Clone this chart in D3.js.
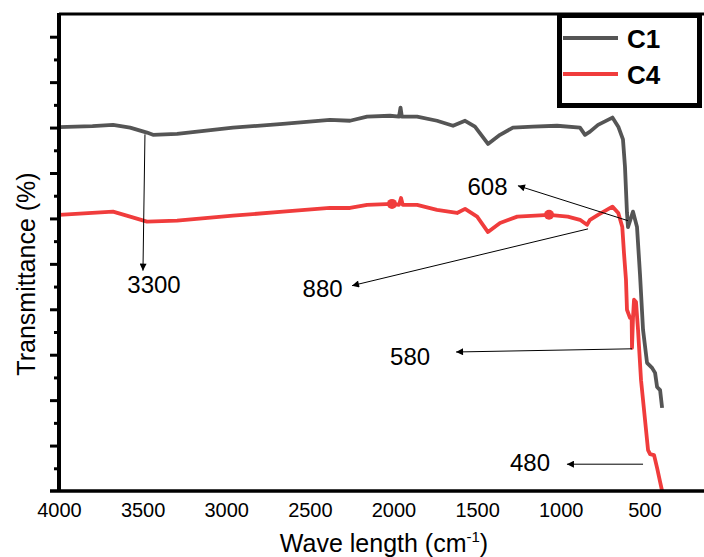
<!DOCTYPE html>
<html>
<head>
<meta charset="utf-8">
<script src="https://cdn.jsdelivr.net/npm/d3@7"></script>
<style>
  body { margin: 0; background: #fff; }
  svg { display: block; font-family: Arial, "Liberation Sans", sans-serif; }
</style>
</head>
<body>
<div id="graph"></div>
<script>
// FTIR spectra, wavenumber (cm-1) vs transmittance (%)
const c1 = [
    [4000, 80.1], [3800, 80.3], [3677, 80.6], [3575, 80.0], [3474, 78.9], [3438, 78.4],
    [3294, 78.6], [2960, 80.0], [2661, 80.8], [2380, 81.7], [2260, 81.5], [2158, 82.4],
    [2021, 82.6], [1967, 82.4], [1958, 84.4], [1950, 82.4], [1859, 82.4], [1740, 81.5],
    [1644, 80.4], [1572, 81.5], [1513, 80.2], [1435, 76.4], [1363, 78.4], [1286, 80.0],
    [1166, 80.2], [1022, 80.4], [885, 80.0], [855, 78.4], [825, 79.1], [777, 80.6],
    [691, 82.2], [656, 80.2], [628, 77.4], [616, 71.4], [604, 61.2], [598, 58.1],
    [568, 61.5], [544, 58.1], [526, 47.6], [508, 35.5], [484, 28.2], [454, 27.1],
    [436, 26.0], [424, 22.9], [406, 22.2], [394, 18.3]
];
const c4 = [
    [4000, 60.8], [3677, 61.5], [3575, 60.4], [3474, 59.3], [3294, 59.5], [2960, 60.6],
    [2661, 61.5], [2380, 62.3], [2260, 62.3], [2158, 63.0], [2006, 63.2], [1967, 63.0],
    [1955, 64.5], [1945, 63.0], [1859, 63.0], [1740, 61.9], [1620, 61.2], [1572, 62.1],
    [1500, 60.4], [1435, 57.0], [1363, 59.0], [1260, 60.4], [1070, 60.8], [958, 60.4],
    [885, 59.7], [843, 58.6], [825, 59.7], [777, 60.8], [691, 62.6], [656, 61.2],
    [632, 58.1], [622, 52.4], [610, 46.5], [604, 39.9], [586, 38.1], [576, 38.1],
    [574, 31.5], [568, 38.1], [562, 42.1], [550, 41.6], [538, 35.5], [520, 24.4],
    [496, 15.6], [478, 9.0], [466, 8.1], [442, 7.9], [424, 5.1], [406, 2.0], [394, 0]
];
const c4Dots = [[2009, 63.2], [1070, 60.8]];

const xTicks = [4000, 3500, 3000, 2500, 2000, 1500, 1000, 500];
const seriesNames = ["C1", "C4"];

// label, arrow start, arrow end, label position
const peaks = [
    { label: "3300", from: [3486, 78.5], to: [3498, 48.5], at: [3432, 43.6] },
    { label: "880",  from: [837, 57.7],  to: [2248, 45.2], at: [2424, 42.7] },
    { label: "608",  from: [598, 59.5],  to: [1256, 67.2], at: [1438, 65.2] },
    { label: "580",  from: [574, 31.3],  to: [1626, 30.6], at: [1901, 27.8] },
    { label: "480",  from: [508, 5.9],   to: [963, 5.9],   at: [1184, 4.4] }
];

const width = 704;
const height = 557;
const colors = ["#555555", "#f03c3c"];

const svg = d3.select("#graph")
    .append("svg")
    .attr("width", width)
    .attr("height", height);

const x = d3.scaleLinear()
    .domain([4000, 0])
    .range([59, 728]);

const y = d3.scaleLinear()
    .domain([0, 105])
    .range([491, 14]);

const line = d3.line()
    .x(d => x(d[0]))
    .y(d => y(d[1]));

svg.append("defs").append("marker")
    .attr("id", "arrow")
    .attr("viewBox", "0 0 10 10")
    .attr("refX", 10)
    .attr("refY", 5)
    .attr("markerWidth", 11)
    .attr("markerHeight", 7)
    .attr("markerUnits", "userSpaceOnUse")
    .attr("orient", "auto")
    .append("path")
    .attr("d", "M0,0L10,5L0,10Z")
    .attr("fill", "#000");

// spectra
[c1, c4].forEach((data, i) => {
    svg.append("path")
        .datum(data)
        .attr("d", line)
        .attr("fill", "none")
        .attr("stroke", colors[i])
        .attr("stroke-width", 3.8)
        .attr("stroke-linejoin", "round");
});

svg.selectAll(".dot")
    .data(c4Dots)
    .join("circle")
    .attr("cx", d => x(d[0]))
    .attr("cy", d => y(d[1]))
    .attr("r", 5)
    .attr("fill", colors[1]);

// peak annotations
const ann = svg.append("g");
ann.selectAll("line")
    .data(peaks)
    .join("line")
    .attr("x1", d => x(d.from[0]))
    .attr("y1", d => y(d.from[1]))
    .attr("x2", d => x(d.to[0]))
    .attr("y2", d => y(d.to[1]))
    .attr("stroke", "#000")
    .attr("stroke-width", 1)
    .attr("marker-end", "url(#arrow)");

ann.selectAll("text")
    .data(peaks)
    .join("text")
    .attr("x", d => x(d.at[0]))
    .attr("y", d => y(d.at[1]))
    .attr("text-anchor", "middle")
    .attr("font-size", 24)
    .text(d => d.label);

// frame: top border
svg.append("line")
    .attr("x1", 59).attr("x2", width)
    .attr("y1", 14).attr("y2", 14)
    .attr("stroke", "#000")
    .attr("stroke-width", 3);

// y axis: major and minor ticks, no labels
function yAxis(g) {
    g.attr("transform", "translate(59,0)");
    g.call(d3.axisLeft(y).tickValues(d3.range(10, 101, 10)).tickSize(9).tickFormat(""));
    g.selectAll(".tick line").attr("stroke-width", 3);
    g.select(".domain").remove();
}
function yMinor(g) {
    g.attr("transform", "translate(59,0)");
    g.call(d3.axisLeft(y).tickValues(d3.range(5, 105, 10)).tickSize(5).tickFormat(""));
    g.selectAll(".tick line").attr("stroke-width", 3);
    g.select(".domain").remove();
}
svg.append("g").call(yAxis);
svg.append("g").call(yMinor);

svg.append("line")
    .attr("x1", 59).attr("x2", 59)
    .attr("y1", 13).attr("y2", 492)
    .attr("stroke", "#000")
    .attr("stroke-width", 4);

function xAxis(g) {
    g.attr("transform", "translate(0,491)");
    g.call(d3.axisBottom(x).tickValues(xTicks).tickSize(0).tickPadding(12).tickFormat(d3.format("d")))
        .attr("font-size", 20)
        .attr("font-family", null);
    g.select(".domain").remove();
}
svg.append("g").call(xAxis);

svg.append("line")
    .attr("x1", 50).attr("x2", width)
    .attr("y1", 491).attr("y2", 491)
    .attr("stroke", "#000")
    .attr("stroke-width", 3.5);

// axis titles
const xTitle = svg.append("text")
    .attr("x", 384)
    .attr("y", 552)
    .attr("text-anchor", "middle")
    .attr("font-size", 25);
xTitle.append("tspan").text("Wave length (cm");
xTitle.append("tspan").attr("font-size", 15).attr("dy", -10).text("-1");
xTitle.append("tspan").attr("dy", 10).text(")");

svg.append("text")
    .attr("transform", "translate(35,274) rotate(-90)")
    .attr("text-anchor", "middle")
    .attr("font-size", 25)
    .text("Transmittance (%)");

// legend
const legend = svg.append("g");
legend.append("rect")
    .attr("x", 559.5).attr("y", 15.5)
    .attr("width", 140).attr("height", 90)
    .attr("fill", "#fff")
    .attr("stroke", "#000")
    .attr("stroke-width", 5);

seriesNames.forEach((name, i) => {
    const ly = 38 + i * 36;
    legend.append("line")
        .attr("x1", 563).attr("x2", 618)
        .attr("y1", ly).attr("y2", ly)
        .attr("stroke", colors[i])
        .attr("stroke-width", 4);
    legend.append("text")
        .attr("x", 627)
        .attr("y", ly + 9.5)
        .attr("font-size", 26)
        .attr("font-weight", "bold")
        .text(name);
});
</script>
</body>
</html>
